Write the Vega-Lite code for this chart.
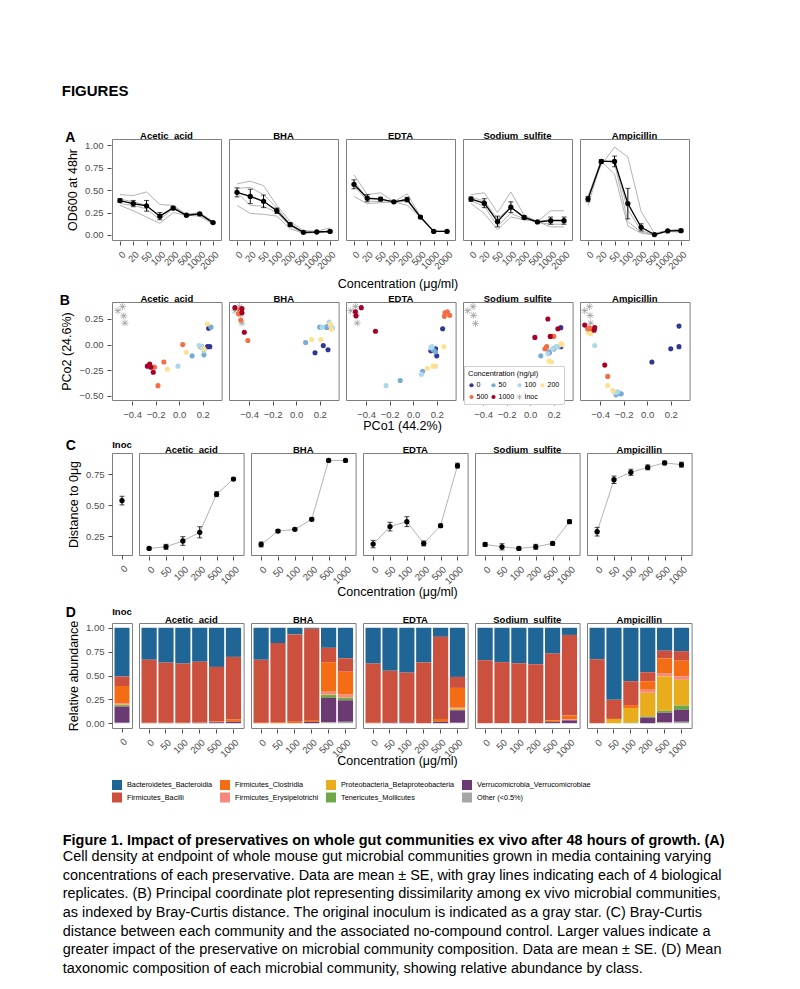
{
"$schema": "https://vega.github.io/schema/vega-lite/v6.json",
"background": "white",
"padding": {"left": 59, "top": 84, "right": 10, "bottom": 2},
"config": {
  "font": "Liberation Sans",
  "view": {"stroke": "#7f7f7f", "strokeWidth": 1},
  "axis": {"grid": false, "domain": false, "tickColor": "#4d4d4d", "tickSize": 4, "labelFontSize": 9.5, "labelColor": "#4d4d4d", "labelPadding": 4, "titleFontSize": 12.5, "titleFontWeight": "normal", "titleColor": "black", "titlePadding": 5, "labelFlush": false, "labelOverlap": false},
  "header": {"labelFontSize": 9.5, "labelFontWeight": "bold", "labelColor": "black", "labelPadding": -2.5},
  "title": {"fontSize": 9.5, "fontWeight": "bold", "color": "black", "offset": 0, "baseline": "alphabetic"}
},
"title": {
  "text": "Figure 1. Impact of preservatives on whole gut communities ex vivo after 48 hours of growth. (A)",
  "subtitle": [
    "Cell density at endpoint of whole mouse gut microbial communities grown in media containing varying",
    "concentrations of each preservative. Data are mean ± SE, with gray lines indicating each of 4 biological",
    "replicates. (B) Principal coordinate plot representing dissimilarity among ex vivo microbial communities,",
    "as indexed by Bray-Curtis distance. The original inoculum is indicated as a gray star. (C) Bray-Curtis",
    "distance between each community and the associated no-compound control. Larger values indicate a",
    "greater impact of the preservative on microbial community composition. Data are mean ± SE. (D) Mean",
    "taxonomic composition of each microbial community, showing relative abundance by class."
  ],
  "orient": "bottom", "anchor": "start", "frame": "bounds", "dx": 3, "offset": 31,
  "font": "Liberation Sans", "fontSize": 14.45, "fontWeight": "bold", "color": "black", "lineHeight": 18.7, "baseline": "top",
  "subtitleFont": "Liberation Sans", "subtitleFontSize": 14.45, "subtitleFontWeight": "normal", "subtitleColor": "black", "subtitleLineHeight": 18.7, "subtitlePadding": 1.5
},
"resolve": {"scale": {"color": "independent", "shape": "independent"}, "legend": {"color": "independent", "shape": "independent"}},
"spacing": 7,
"datasets": {
  "odA": [
    {"kind":"rep","cmpd":"Acetic_acid","rep":1,"0":0.45,"20":0.44,"50":0.48,"100":0.34,"200":0.33,"500":0.23,"1000":0.25,"2000":0.15},
    {"kind":"rep","cmpd":"Acetic_acid","rep":2,"0":0.40,"20":0.37,"50":0.33,"100":0.20,"200":0.32,"500":0.22,"1000":0.24,"2000":0.14},
    {"kind":"rep","cmpd":"Acetic_acid","rep":3,"0":0.35,"20":0.33,"50":0.29,"100":0.17,"200":0.30,"500":0.21,"1000":0.23,"2000":0.13},
    {"kind":"rep","cmpd":"Acetic_acid","rep":4,"0":0.33,"20":0.27,"50":0.20,"100":0.13,"200":0.25,"500":0.22,"1000":0.21,"2000":0.12},
    {"kind":"rep","cmpd":"BHA","rep":1,"0":0.57,"20":0.60,"50":0.55,"100":0.33,"200":0.15,"500":0.05,"1000":0.04,"2000":0.08},
    {"kind":"rep","cmpd":"BHA","rep":2,"0":0.52,"20":0.53,"50":0.45,"100":0.30,"200":0.12,"500":0.03,"1000":0.03,"2000":0.04},
    {"kind":"rep","cmpd":"BHA","rep":3,"0":0.47,"20":0.33,"50":0.32,"100":0.25,"200":0.10,"500":0.02,"1000":0.03,"2000":0.03},
    {"kind":"rep","cmpd":"BHA","rep":4,"0":0.33,"20":0.24,"50":0.23,"100":0.21,"200":0.07,"500":0.02,"1000":0.03,"2000":0.03},
    {"kind":"rep","cmpd":"EDTA","rep":1,"0":0.67,"20":0.45,"50":0.47,"100":0.37,"200":0.46,"500":0.21,"1000":0.04,"2000":0.04},
    {"kind":"rep","cmpd":"EDTA","rep":2,"0":0.60,"20":0.40,"50":0.40,"100":0.37,"200":0.40,"500":0.20,"1000":0.04,"2000":0.04},
    {"kind":"rep","cmpd":"EDTA","rep":3,"0":0.55,"20":0.38,"50":0.37,"100":0.36,"200":0.38,"500":0.19,"1000":0.04,"2000":0.04},
    {"kind":"rep","cmpd":"EDTA","rep":4,"0":0.43,"20":0.35,"50":0.36,"100":0.37,"200":0.33,"500":0.20,"1000":0.04,"2000":0.04},
    {"kind":"rep","cmpd":"Sodium_sulfite","rep":1,"0":0.45,"20":0.47,"50":0.25,"100":0.48,"200":0.22,"500":0.15,"1000":0.27,"2000":0.27},
    {"kind":"rep","cmpd":"Sodium_sulfite","rep":2,"0":0.42,"20":0.38,"50":0.18,"100":0.31,"200":0.21,"500":0.15,"1000":0.17,"2000":0.17},
    {"kind":"rep","cmpd":"Sodium_sulfite","rep":3,"0":0.38,"20":0.32,"50":0.10,"100":0.24,"200":0.18,"500":0.14,"1000":0.12,"2000":0.12},
    {"kind":"rep","cmpd":"Sodium_sulfite","rep":4,"0":0.35,"20":0.24,"50":0.06,"100":0.20,"200":0.17,"500":0.15,"1000":0.09,"2000":0.09},
    {"kind":"rep","cmpd":"Ampicillin","rep":1,"0":0.44,"20":0.78,"50":0.98,"100":0.87,"200":0.26,"500":0.02,"1000":0.05,"2000":0.07},
    {"kind":"rep","cmpd":"Ampicillin","rep":2,"0":0.40,"20":0.82,"50":0.82,"100":0.28,"200":0.05,"500":0.00,"1000":0.04,"2000":0.05},
    {"kind":"rep","cmpd":"Ampicillin","rep":3,"0":0.42,"20":0.84,"50":0.80,"100":0.15,"200":0.03,"500":0.00,"1000":0.05,"2000":0.04},
    {"kind":"rep","cmpd":"Ampicillin","rep":4,"0":0.33,"20":0.82,"50":0.68,"100":0.10,"200":0.02,"500":0.00,"1000":0.04,"2000":0.03},
    {"kind":"mean","cmpd":"Acetic_acid","conc":"0","od":0.384,"se":0.02},
    {"kind":"mean","cmpd":"Acetic_acid","conc":"20","od":0.35,"se":0.035},
    {"kind":"mean","cmpd":"Acetic_acid","conc":"50","od":0.325,"se":0.06},
    {"kind":"mean","cmpd":"Acetic_acid","conc":"100","od":0.21,"se":0.04},
    {"kind":"mean","cmpd":"Acetic_acid","conc":"200","od":0.30,"se":0.02},
    {"kind":"mean","cmpd":"Acetic_acid","conc":"500","od":0.22,"se":0.01},
    {"kind":"mean","cmpd":"Acetic_acid","conc":"1000","od":0.235,"se":0.01},
    {"kind":"mean","cmpd":"Acetic_acid","conc":"2000","od":0.138,"se":0.01},
    {"kind":"mean","cmpd":"BHA","conc":"0","od":0.475,"se":0.05},
    {"kind":"mean","cmpd":"BHA","conc":"20","od":0.43,"se":0.08},
    {"kind":"mean","cmpd":"BHA","conc":"50","od":0.375,"se":0.07},
    {"kind":"mean","cmpd":"BHA","conc":"100","od":0.27,"se":0.03},
    {"kind":"mean","cmpd":"BHA","conc":"200","od":0.115,"se":0.02},
    {"kind":"mean","cmpd":"BHA","conc":"500","od":0.03,"se":0.005},
    {"kind":"mean","cmpd":"BHA","conc":"1000","od":0.033,"se":0.005},
    {"kind":"mean","cmpd":"BHA","conc":"2000","od":0.04,"se":0.01},
    {"kind":"mean","cmpd":"EDTA","conc":"0","od":0.565,"se":0.05},
    {"kind":"mean","cmpd":"EDTA","conc":"20","od":0.41,"se":0.04},
    {"kind":"mean","cmpd":"EDTA","conc":"50","od":0.40,"se":0.02},
    {"kind":"mean","cmpd":"EDTA","conc":"100","od":0.37,"se":0.01},
    {"kind":"mean","cmpd":"EDTA","conc":"200","od":0.395,"se":0.025},
    {"kind":"mean","cmpd":"EDTA","conc":"500","od":0.20,"se":0.01},
    {"kind":"mean","cmpd":"EDTA","conc":"1000","od":0.04,"se":0.005},
    {"kind":"mean","cmpd":"EDTA","conc":"2000","od":0.04,"se":0.005},
    {"kind":"mean","cmpd":"Sodium_sulfite","conc":"0","od":0.40,"se":0.025},
    {"kind":"mean","cmpd":"Sodium_sulfite","conc":"20","od":0.355,"se":0.05},
    {"kind":"mean","cmpd":"Sodium_sulfite","conc":"50","od":0.15,"se":0.06},
    {"kind":"mean","cmpd":"Sodium_sulfite","conc":"100","od":0.31,"se":0.06},
    {"kind":"mean","cmpd":"Sodium_sulfite","conc":"200","od":0.195,"se":0.02},
    {"kind":"mean","cmpd":"Sodium_sulfite","conc":"500","od":0.145,"se":0.005},
    {"kind":"mean","cmpd":"Sodium_sulfite","conc":"1000","od":0.16,"se":0.04},
    {"kind":"mean","cmpd":"Sodium_sulfite","conc":"2000","od":0.16,"se":0.04},
    {"kind":"mean","cmpd":"Ampicillin","conc":"0","od":0.40,"se":0.03},
    {"kind":"mean","cmpd":"Ampicillin","conc":"20","od":0.82,"se":0.02},
    {"kind":"mean","cmpd":"Ampicillin","conc":"50","od":0.82,"se":0.06},
    {"kind":"mean","cmpd":"Ampicillin","conc":"100","od":0.35,"se":0.17},
    {"kind":"mean","cmpd":"Ampicillin","conc":"200","od":0.085,"se":0.04},
    {"kind":"mean","cmpd":"Ampicillin","conc":"500","od":0.005,"se":0.005},
    {"kind":"mean","cmpd":"Ampicillin","conc":"1000","od":0.045,"se":0.005},
    {"kind":"mean","cmpd":"Ampicillin","conc":"2000","od":0.048,"se":0.01}
  ],
  "pcoa": [
    {"cmpd":"Acetic_acid","conc":"Inoc","pc1":-0.52,"pc2":0.33},{"cmpd":"Acetic_acid","conc":"Inoc","pc1":-0.48,"pc2":0.37},{"cmpd":"Acetic_acid","conc":"Inoc","pc1":-0.47,"pc2":0.28},{"cmpd":"Acetic_acid","conc":"Inoc","pc1":-0.46,"pc2":0.21},
    {"cmpd":"BHA","conc":"Inoc","pc1":-0.52,"pc2":0.33},{"cmpd":"BHA","conc":"Inoc","pc1":-0.48,"pc2":0.37},{"cmpd":"BHA","conc":"Inoc","pc1":-0.47,"pc2":0.29},{"cmpd":"BHA","conc":"Inoc","pc1":-0.46,"pc2":0.21},
    {"cmpd":"EDTA","conc":"Inoc","pc1":-0.53,"pc2":0.33},{"cmpd":"EDTA","conc":"Inoc","pc1":-0.49,"pc2":0.37},{"cmpd":"EDTA","conc":"Inoc","pc1":-0.485,"pc2":0.285},{"cmpd":"EDTA","conc":"Inoc","pc1":-0.475,"pc2":0.21},
    {"cmpd":"Sodium_sulfite","conc":"Inoc","pc1":-0.53,"pc2":0.33},{"cmpd":"Sodium_sulfite","conc":"Inoc","pc1":-0.485,"pc2":0.37},{"cmpd":"Sodium_sulfite","conc":"Inoc","pc1":-0.48,"pc2":0.285},{"cmpd":"Sodium_sulfite","conc":"Inoc","pc1":-0.465,"pc2":0.205},
    {"cmpd":"Ampicillin","conc":"Inoc","pc1":-0.53,"pc2":0.33},{"cmpd":"Ampicillin","conc":"Inoc","pc1":-0.49,"pc2":0.37},{"cmpd":"Ampicillin","conc":"Inoc","pc1":-0.485,"pc2":0.285},{"cmpd":"Ampicillin","conc":"Inoc","pc1":-0.48,"pc2":0.21},
    {"cmpd":"Acetic_acid","conc":"0","pc1":0.19,"pc2":-0.02},{"cmpd":"Acetic_acid","conc":"0","pc1":0.24,"pc2":-0.02},{"cmpd":"Acetic_acid","conc":"0","pc1":0.26,"pc2":-0.02},{"cmpd":"Acetic_acid","conc":"0","pc1":0.25,"pc2":0.16},
    {"cmpd":"Acetic_acid","conc":"50","pc1":0.11,"pc2":-0.11},{"cmpd":"Acetic_acid","conc":"50","pc1":0.21,"pc2":-0.10},{"cmpd":"Acetic_acid","conc":"50","pc1":0.18,"pc2":-0.02},{"cmpd":"Acetic_acid","conc":"50","pc1":0.27,"pc2":0.17},
    {"cmpd":"Acetic_acid","conc":"100","pc1":-0.01,"pc2":-0.21},{"cmpd":"Acetic_acid","conc":"100","pc1":0.17,"pc2":-0.01},{"cmpd":"Acetic_acid","conc":"100","pc1":0.21,"pc2":-0.06},{"cmpd":"Acetic_acid","conc":"100","pc1":0.19,"pc2":-0.02},
    {"cmpd":"Acetic_acid","conc":"200","pc1":-0.10,"pc2":-0.24},{"cmpd":"Acetic_acid","conc":"200","pc1":0.06,"pc2":-0.075},{"cmpd":"Acetic_acid","conc":"200","pc1":0.24,"pc2":0.20},{"cmpd":"Acetic_acid","conc":"200","pc1":0.21,"pc2":-0.04},
    {"cmpd":"Acetic_acid","conc":"500","pc1":-0.18,"pc2":-0.40},{"cmpd":"Acetic_acid","conc":"500","pc1":-0.13,"pc2":-0.17},{"cmpd":"Acetic_acid","conc":"500","pc1":0.03,"pc2":0.0},{"cmpd":"Acetic_acid","conc":"500","pc1":-0.21,"pc2":-0.22},
    {"cmpd":"Acetic_acid","conc":"1000","pc1":-0.27,"pc2":-0.21},{"cmpd":"Acetic_acid","conc":"1000","pc1":-0.25,"pc2":-0.19},{"cmpd":"Acetic_acid","conc":"1000","pc1":-0.24,"pc2":-0.22},{"cmpd":"Acetic_acid","conc":"1000","pc1":-0.22,"pc2":-0.27},
    {"cmpd":"BHA","conc":"0","pc1":0.16,"pc2":-0.08},{"cmpd":"BHA","conc":"0","pc1":0.23,"pc2":-0.01},{"cmpd":"BHA","conc":"0","pc1":0.27,"pc2":-0.05},{"cmpd":"BHA","conc":"0","pc1":0.26,"pc2":0.17},
    {"cmpd":"BHA","conc":"50","pc1":0.08,"pc2":0.02},{"cmpd":"BHA","conc":"50","pc1":0.20,"pc2":0.17},{"cmpd":"BHA","conc":"50","pc1":0.26,"pc2":0.17},{"cmpd":"BHA","conc":"50","pc1":0.29,"pc2":0.18},
    {"cmpd":"BHA","conc":"100","pc1":0.28,"pc2":0.22},{"cmpd":"BHA","conc":"100","pc1":0.29,"pc2":0.18},{"cmpd":"BHA","conc":"100","pc1":0.31,"pc2":0.16},{"cmpd":"BHA","conc":"100","pc1":0.22,"pc2":0.17},
    {"cmpd":"BHA","conc":"200","pc1":0.13,"pc2":0.05},{"cmpd":"BHA","conc":"200","pc1":0.21,"pc2":0.05},{"cmpd":"BHA","conc":"200","pc1":0.29,"pc2":0.20},{"cmpd":"BHA","conc":"200","pc1":0.30,"pc2":0.15},
    {"cmpd":"BHA","conc":"500","pc1":-0.48,"pc2":0.34},{"cmpd":"BHA","conc":"500","pc1":-0.47,"pc2":0.24},{"cmpd":"BHA","conc":"500","pc1":-0.41,"pc2":0.04},{"cmpd":"BHA","conc":"500","pc1":-0.49,"pc2":0.30},
    {"cmpd":"BHA","conc":"1000","pc1":-0.52,"pc2":0.36},{"cmpd":"BHA","conc":"1000","pc1":-0.46,"pc2":0.35},{"cmpd":"BHA","conc":"1000","pc1":-0.46,"pc2":0.31},{"cmpd":"BHA","conc":"1000","pc1":-0.44,"pc2":0.12},
    {"cmpd":"EDTA","conc":"0","pc1":0.15,"pc2":-0.06},{"cmpd":"EDTA","conc":"0","pc1":0.25,"pc2":0.155},{"cmpd":"EDTA","conc":"0","pc1":0.20,"pc2":-0.11},{"cmpd":"EDTA","conc":"0","pc1":0.19,"pc2":-0.04},
    {"cmpd":"EDTA","conc":"50","pc1":-0.11,"pc2":-0.35},{"cmpd":"EDTA","conc":"50","pc1":0.08,"pc2":-0.26},{"cmpd":"EDTA","conc":"50","pc1":0.19,"pc2":-0.07},{"cmpd":"EDTA","conc":"50","pc1":0.17,"pc2":-0.05},
    {"cmpd":"EDTA","conc":"100","pc1":-0.23,"pc2":-0.40},{"cmpd":"EDTA","conc":"100","pc1":0.07,"pc2":-0.29},{"cmpd":"EDTA","conc":"100","pc1":0.15,"pc2":-0.03},{"cmpd":"EDTA","conc":"100","pc1":0.16,"pc2":-0.02},
    {"cmpd":"EDTA","conc":"200","pc1":0.12,"pc2":-0.23},{"cmpd":"EDTA","conc":"200","pc1":0.19,"pc2":-0.21},{"cmpd":"EDTA","conc":"200","pc1":0.26,"pc2":-0.02},{"cmpd":"EDTA","conc":"200","pc1":0.17,"pc2":-0.21},
    {"cmpd":"EDTA","conc":"500","pc1":0.27,"pc2":0.31},{"cmpd":"EDTA","conc":"500","pc1":0.29,"pc2":0.32},{"cmpd":"EDTA","conc":"500","pc1":0.31,"pc2":0.285},{"cmpd":"EDTA","conc":"500","pc1":0.265,"pc2":0.275},
    {"cmpd":"EDTA","conc":"1000","pc1":-0.49,"pc2":0.32},{"cmpd":"EDTA","conc":"1000","pc1":-0.485,"pc2":0.28},{"cmpd":"EDTA","conc":"1000","pc1":-0.44,"pc2":0.36},{"cmpd":"EDTA","conc":"1000","pc1":-0.32,"pc2":0.13},
    {"cmpd":"Sodium_sulfite","conc":"0","pc1":0.26,"pc2":0.165},{"cmpd":"Sodium_sulfite","conc":"0","pc1":0.26,"pc2":-0.02},{"cmpd":"Sodium_sulfite","conc":"0","pc1":0.16,"pc2":-0.08},{"cmpd":"Sodium_sulfite","conc":"0","pc1":0.20,"pc2":-0.04},
    {"cmpd":"Sodium_sulfite","conc":"50","pc1":0.09,"pc2":-0.11},{"cmpd":"Sodium_sulfite","conc":"50","pc1":0.20,"pc2":-0.04},{"cmpd":"Sodium_sulfite","conc":"50","pc1":0.24,"pc2":-0.02},{"cmpd":"Sodium_sulfite","conc":"50","pc1":0.16,"pc2":-0.07},
    {"cmpd":"Sodium_sulfite","conc":"100","pc1":0.22,"pc2":-0.02},{"cmpd":"Sodium_sulfite","conc":"100","pc1":0.23,"pc2":-0.02},{"cmpd":"Sodium_sulfite","conc":"100","pc1":0.19,"pc2":-0.04},{"cmpd":"Sodium_sulfite","conc":"100","pc1":0.15,"pc2":-0.09},
    {"cmpd":"Sodium_sulfite","conc":"200","pc1":0.26,"pc2":0.01},{"cmpd":"Sodium_sulfite","conc":"200","pc1":0.16,"pc2":-0.16},{"cmpd":"Sodium_sulfite","conc":"200","pc1":0.18,"pc2":-0.17},{"cmpd":"Sodium_sulfite","conc":"200","pc1":0.27,"pc2":0.0},
    {"cmpd":"Sodium_sulfite","conc":"500","pc1":0.19,"pc2":0.08},{"cmpd":"Sodium_sulfite","conc":"500","pc1":0.20,"pc2":0.08},{"cmpd":"Sodium_sulfite","conc":"500","pc1":0.125,"pc2":-0.04},{"cmpd":"Sodium_sulfite","conc":"500","pc1":0.14,"pc2":-0.02},
    {"cmpd":"Sodium_sulfite","conc":"1000","pc1":0.15,"pc2":0.25},{"cmpd":"Sodium_sulfite","conc":"1000","pc1":0.04,"pc2":0.07},{"cmpd":"Sodium_sulfite","conc":"1000","pc1":0.17,"pc2":0.08},{"cmpd":"Sodium_sulfite","conc":"1000","pc1":0.235,"pc2":0.155},
    {"cmpd":"Ampicillin","conc":"0","pc1":0.04,"pc2":-0.17},{"cmpd":"Ampicillin","conc":"0","pc1":0.20,"pc2":-0.04},{"cmpd":"Ampicillin","conc":"0","pc1":0.27,"pc2":-0.02},{"cmpd":"Ampicillin","conc":"0","pc1":0.27,"pc2":0.18},
    {"cmpd":"Ampicillin","conc":"50","pc1":-0.265,"pc2":-0.49},{"cmpd":"Ampicillin","conc":"50","pc1":-0.22,"pc2":-0.48},{"cmpd":"Ampicillin","conc":"50","pc1":-0.26,"pc2":-0.47},{"cmpd":"Ampicillin","conc":"50","pc1":-0.24,"pc2":-0.475},
    {"cmpd":"Ampicillin","conc":"100","pc1":-0.445,"pc2":-0.01},{"cmpd":"Ampicillin","conc":"100","pc1":-0.29,"pc2":-0.45},{"cmpd":"Ampicillin","conc":"100","pc1":-0.265,"pc2":-0.47},{"cmpd":"Ampicillin","conc":"100","pc1":-0.25,"pc2":-0.46},
    {"cmpd":"Ampicillin","conc":"200","pc1":-0.48,"pc2":0.105},{"cmpd":"Ampicillin","conc":"200","pc1":-0.335,"pc2":-0.40},{"cmpd":"Ampicillin","conc":"200","pc1":-0.50,"pc2":0.12},{"cmpd":"Ampicillin","conc":"200","pc1":-0.29,"pc2":-0.45},
    {"cmpd":"Ampicillin","conc":"500","pc1":-0.505,"pc2":0.155},{"cmpd":"Ampicillin","conc":"500","pc1":-0.48,"pc2":0.155},{"cmpd":"Ampicillin","conc":"500","pc1":-0.335,"pc2":-0.31},{"cmpd":"Ampicillin","conc":"500","pc1":-0.49,"pc2":0.16},
    {"cmpd":"Ampicillin","conc":"1000","pc1":-0.53,"pc2":0.19},{"cmpd":"Ampicillin","conc":"1000","pc1":-0.445,"pc2":0.165},{"cmpd":"Ampicillin","conc":"1000","pc1":-0.45,"pc2":0.14},{"cmpd":"Ampicillin","conc":"1000","pc1":-0.36,"pc2":-0.20}
  ],
  "dist": [
    {"cmpd":"Inoc","conc":"0","dist":0.536,"se":0.035},
    {"cmpd":"Acetic_acid","conc":"0","dist":0.15,"se":0.01},
    {"cmpd":"Acetic_acid","conc":"50","dist":0.163,"se":0.02},
    {"cmpd":"Acetic_acid","conc":"100","dist":0.21,"se":0.035},
    {"cmpd":"Acetic_acid","conc":"200","dist":0.28,"se":0.045},
    {"cmpd":"Acetic_acid","conc":"500","dist":0.588,"se":0.02},
    {"cmpd":"Acetic_acid","conc":"1000","dist":0.71,"se":0.01},
    {"cmpd":"BHA","conc":"0","dist":0.182,"se":0.02},
    {"cmpd":"BHA","conc":"50","dist":0.29,"se":0.012},
    {"cmpd":"BHA","conc":"100","dist":0.304,"se":0.01},
    {"cmpd":"BHA","conc":"200","dist":0.385,"se":0.012},
    {"cmpd":"BHA","conc":"500","dist":0.86,"se":0.01},
    {"cmpd":"BHA","conc":"1000","dist":0.86,"se":0.01},
    {"cmpd":"EDTA","conc":"0","dist":0.185,"se":0.03},
    {"cmpd":"EDTA","conc":"50","dist":0.326,"se":0.035},
    {"cmpd":"EDTA","conc":"100","dist":0.366,"se":0.04},
    {"cmpd":"EDTA","conc":"200","dist":0.19,"se":0.02},
    {"cmpd":"EDTA","conc":"500","dist":0.334,"se":0.012},
    {"cmpd":"EDTA","conc":"1000","dist":0.818,"se":0.02},
    {"cmpd":"Sodium_sulfite","conc":"0","dist":0.182,"se":0.015},
    {"cmpd":"Sodium_sulfite","conc":"50","dist":0.163,"se":0.025},
    {"cmpd":"Sodium_sulfite","conc":"100","dist":0.15,"se":0.012},
    {"cmpd":"Sodium_sulfite","conc":"200","dist":0.163,"se":0.02},
    {"cmpd":"Sodium_sulfite","conc":"500","dist":0.19,"se":0.012},
    {"cmpd":"Sodium_sulfite","conc":"1000","dist":0.366,"se":0.015},
    {"cmpd":"Ampicillin","conc":"0","dist":0.285,"se":0.035},
    {"cmpd":"Ampicillin","conc":"50","dist":0.704,"se":0.03},
    {"cmpd":"Ampicillin","conc":"100","dist":0.764,"se":0.025},
    {"cmpd":"Ampicillin","conc":"200","dist":0.804,"se":0.02},
    {"cmpd":"Ampicillin","conc":"500","dist":0.84,"se":0.015},
    {"cmpd":"Ampicillin","conc":"1000","dist":0.826,"se":0.02}
  ],
  "taxa": [
    {"cmpd":"Inoc","conc":"0","Bacteroidetes_Bacteroidia":0.51,"Firmicutes_Bacilli":0.10,"Firmicutes_Clostridia":0.18,"Firmicutes_Erysipelotrichi":0.015,"Proteobacteria_Betaproteobacteria":0.005,"Tenericutes_Mollicutes":0.015,"Verrucomicrobia_Verrucomicrobiae":0.17,"Other":0.005},
    {"cmpd":"Acetic_acid","conc":"0","Bacteroidetes_Bacteroidia":0.335,"Firmicutes_Bacilli":0.66,"Firmicutes_Clostridia":0.003,"Firmicutes_Erysipelotrichi":0,"Proteobacteria_Betaproteobacteria":0,"Tenericutes_Mollicutes":0,"Verrucomicrobia_Verrucomicrobiae":0.002,"Other":0},
    {"cmpd":"Acetic_acid","conc":"50","Bacteroidetes_Bacteroidia":0.365,"Firmicutes_Bacilli":0.63,"Firmicutes_Clostridia":0.003,"Firmicutes_Erysipelotrichi":0,"Proteobacteria_Betaproteobacteria":0,"Tenericutes_Mollicutes":0,"Verrucomicrobia_Verrucomicrobiae":0.002,"Other":0},
    {"cmpd":"Acetic_acid","conc":"100","Bacteroidetes_Bacteroidia":0.375,"Firmicutes_Bacilli":0.62,"Firmicutes_Clostridia":0.003,"Firmicutes_Erysipelotrichi":0,"Proteobacteria_Betaproteobacteria":0,"Tenericutes_Mollicutes":0,"Verrucomicrobia_Verrucomicrobiae":0.002,"Other":0},
    {"cmpd":"Acetic_acid","conc":"200","Bacteroidetes_Bacteroidia":0.355,"Firmicutes_Bacilli":0.635,"Firmicutes_Clostridia":0.005,"Firmicutes_Erysipelotrichi":0,"Proteobacteria_Betaproteobacteria":0,"Tenericutes_Mollicutes":0,"Verrucomicrobia_Verrucomicrobiae":0.005,"Other":0},
    {"cmpd":"Acetic_acid","conc":"500","Bacteroidetes_Bacteroidia":0.41,"Firmicutes_Bacilli":0.57,"Firmicutes_Clostridia":0.01,"Firmicutes_Erysipelotrichi":0,"Proteobacteria_Betaproteobacteria":0,"Tenericutes_Mollicutes":0,"Verrucomicrobia_Verrucomicrobiae":0.01,"Other":0},
    {"cmpd":"Acetic_acid","conc":"1000","Bacteroidetes_Bacteroidia":0.305,"Firmicutes_Bacilli":0.655,"Firmicutes_Clostridia":0.025,"Firmicutes_Erysipelotrichi":0,"Proteobacteria_Betaproteobacteria":0,"Tenericutes_Mollicutes":0,"Verrucomicrobia_Verrucomicrobiae":0.015,"Other":0},
    {"cmpd":"BHA","conc":"0","Bacteroidetes_Bacteroidia":0.335,"Firmicutes_Bacilli":0.66,"Firmicutes_Clostridia":0.005,"Firmicutes_Erysipelotrichi":0,"Proteobacteria_Betaproteobacteria":0,"Tenericutes_Mollicutes":0,"Verrucomicrobia_Verrucomicrobiae":0,"Other":0},
    {"cmpd":"BHA","conc":"50","Bacteroidetes_Bacteroidia":0.16,"Firmicutes_Bacilli":0.83,"Firmicutes_Clostridia":0.01,"Firmicutes_Erysipelotrichi":0,"Proteobacteria_Betaproteobacteria":0,"Tenericutes_Mollicutes":0,"Verrucomicrobia_Verrucomicrobiae":0,"Other":0},
    {"cmpd":"BHA","conc":"100","Bacteroidetes_Bacteroidia":0.07,"Firmicutes_Bacilli":0.915,"Firmicutes_Clostridia":0.015,"Firmicutes_Erysipelotrichi":0,"Proteobacteria_Betaproteobacteria":0,"Tenericutes_Mollicutes":0,"Verrucomicrobia_Verrucomicrobiae":0,"Other":0},
    {"cmpd":"BHA","conc":"200","Bacteroidetes_Bacteroidia":0.01,"Firmicutes_Bacilli":0.955,"Firmicutes_Clostridia":0.02,"Firmicutes_Erysipelotrichi":0,"Proteobacteria_Betaproteobacteria":0,"Tenericutes_Mollicutes":0,"Verrucomicrobia_Verrucomicrobiae":0.015,"Other":0},
    {"cmpd":"BHA","conc":"500","Bacteroidetes_Bacteroidia":0.21,"Firmicutes_Bacilli":0.15,"Firmicutes_Clostridia":0.31,"Firmicutes_Erysipelotrichi":0.03,"Proteobacteria_Betaproteobacteria":0.005,"Tenericutes_Mollicutes":0.03,"Verrucomicrobia_Verrucomicrobiae":0.255,"Other":0.01},
    {"cmpd":"BHA","conc":"1000","Bacteroidetes_Bacteroidia":0.32,"Firmicutes_Bacilli":0.14,"Firmicutes_Clostridia":0.24,"Firmicutes_Erysipelotrichi":0.03,"Proteobacteria_Betaproteobacteria":0.005,"Tenericutes_Mollicutes":0.025,"Verrucomicrobia_Verrucomicrobiae":0.225,"Other":0.015},
    {"cmpd":"EDTA","conc":"0","Bacteroidetes_Bacteroidia":0.375,"Firmicutes_Bacilli":0.62,"Firmicutes_Clostridia":0.005,"Firmicutes_Erysipelotrichi":0,"Proteobacteria_Betaproteobacteria":0,"Tenericutes_Mollicutes":0,"Verrucomicrobia_Verrucomicrobiae":0,"Other":0},
    {"cmpd":"EDTA","conc":"50","Bacteroidetes_Bacteroidia":0.45,"Firmicutes_Bacilli":0.545,"Firmicutes_Clostridia":0,"Firmicutes_Erysipelotrichi":0,"Proteobacteria_Betaproteobacteria":0,"Tenericutes_Mollicutes":0,"Verrucomicrobia_Verrucomicrobiae":0.005,"Other":0},
    {"cmpd":"EDTA","conc":"100","Bacteroidetes_Bacteroidia":0.47,"Firmicutes_Bacilli":0.525,"Firmicutes_Clostridia":0,"Firmicutes_Erysipelotrichi":0,"Proteobacteria_Betaproteobacteria":0,"Tenericutes_Mollicutes":0,"Verrucomicrobia_Verrucomicrobiae":0.005,"Other":0},
    {"cmpd":"EDTA","conc":"200","Bacteroidetes_Bacteroidia":0.365,"Firmicutes_Bacilli":0.635,"Firmicutes_Clostridia":0,"Firmicutes_Erysipelotrichi":0,"Proteobacteria_Betaproteobacteria":0,"Tenericutes_Mollicutes":0,"Verrucomicrobia_Verrucomicrobiae":0,"Other":0},
    {"cmpd":"EDTA","conc":"500","Bacteroidetes_Bacteroidia":0.095,"Firmicutes_Bacilli":0.86,"Firmicutes_Clostridia":0.03,"Firmicutes_Erysipelotrichi":0,"Proteobacteria_Betaproteobacteria":0,"Tenericutes_Mollicutes":0,"Verrucomicrobia_Verrucomicrobiae":0.015,"Other":0},
    {"cmpd":"EDTA","conc":"1000","Bacteroidetes_Bacteroidia":0.515,"Firmicutes_Bacilli":0.115,"Firmicutes_Clostridia":0.2,"Firmicutes_Erysipelotrichi":0.015,"Proteobacteria_Betaproteobacteria":0.015,"Tenericutes_Mollicutes":0.005,"Verrucomicrobia_Verrucomicrobiae":0.13,"Other":0.005},
    {"cmpd":"Sodium_sulfite","conc":"0","Bacteroidetes_Bacteroidia":0.34,"Firmicutes_Bacilli":0.66,"Firmicutes_Clostridia":0,"Firmicutes_Erysipelotrichi":0,"Proteobacteria_Betaproteobacteria":0,"Tenericutes_Mollicutes":0,"Verrucomicrobia_Verrucomicrobiae":0,"Other":0},
    {"cmpd":"Sodium_sulfite","conc":"50","Bacteroidetes_Bacteroidia":0.36,"Firmicutes_Bacilli":0.64,"Firmicutes_Clostridia":0,"Firmicutes_Erysipelotrichi":0,"Proteobacteria_Betaproteobacteria":0,"Tenericutes_Mollicutes":0,"Verrucomicrobia_Verrucomicrobiae":0,"Other":0},
    {"cmpd":"Sodium_sulfite","conc":"100","Bacteroidetes_Bacteroidia":0.372,"Firmicutes_Bacilli":0.628,"Firmicutes_Clostridia":0,"Firmicutes_Erysipelotrichi":0,"Proteobacteria_Betaproteobacteria":0,"Tenericutes_Mollicutes":0,"Verrucomicrobia_Verrucomicrobiae":0,"Other":0},
    {"cmpd":"Sodium_sulfite","conc":"200","Bacteroidetes_Bacteroidia":0.382,"Firmicutes_Bacilli":0.618,"Firmicutes_Clostridia":0,"Firmicutes_Erysipelotrichi":0,"Proteobacteria_Betaproteobacteria":0,"Tenericutes_Mollicutes":0,"Verrucomicrobia_Verrucomicrobiae":0,"Other":0},
    {"cmpd":"Sodium_sulfite","conc":"500","Bacteroidetes_Bacteroidia":0.27,"Firmicutes_Bacilli":0.70,"Firmicutes_Clostridia":0.018,"Firmicutes_Erysipelotrichi":0,"Proteobacteria_Betaproteobacteria":0,"Tenericutes_Mollicutes":0,"Verrucomicrobia_Verrucomicrobiae":0.012,"Other":0},
    {"cmpd":"Sodium_sulfite","conc":"1000","Bacteroidetes_Bacteroidia":0.075,"Firmicutes_Bacilli":0.845,"Firmicutes_Clostridia":0.04,"Firmicutes_Erysipelotrichi":0.01,"Proteobacteria_Betaproteobacteria":0,"Tenericutes_Mollicutes":0,"Verrucomicrobia_Verrucomicrobiae":0.03,"Other":0},
    {"cmpd":"Ampicillin","conc":"0","Bacteroidetes_Bacteroidia":0.33,"Firmicutes_Bacilli":0.67,"Firmicutes_Clostridia":0,"Firmicutes_Erysipelotrichi":0,"Proteobacteria_Betaproteobacteria":0,"Tenericutes_Mollicutes":0,"Verrucomicrobia_Verrucomicrobiae":0,"Other":0},
    {"cmpd":"Ampicillin","conc":"50","Bacteroidetes_Bacteroidia":0.755,"Firmicutes_Bacilli":0.20,"Firmicutes_Clostridia":0,"Firmicutes_Erysipelotrichi":0,"Proteobacteria_Betaproteobacteria":0.045,"Tenericutes_Mollicutes":0,"Verrucomicrobia_Verrucomicrobiae":0,"Other":0},
    {"cmpd":"Ampicillin","conc":"100","Bacteroidetes_Bacteroidia":0.56,"Firmicutes_Bacilli":0.25,"Firmicutes_Clostridia":0.03,"Firmicutes_Erysipelotrichi":0,"Proteobacteria_Betaproteobacteria":0.155,"Tenericutes_Mollicutes":0.005,"Verrucomicrobia_Verrucomicrobiae":0,"Other":0},
    {"cmpd":"Ampicillin","conc":"200","Bacteroidetes_Bacteroidia":0.465,"Firmicutes_Bacilli":0.095,"Firmicutes_Clostridia":0.09,"Firmicutes_Erysipelotrichi":0.03,"Proteobacteria_Betaproteobacteria":0.25,"Tenericutes_Mollicutes":0.01,"Verrucomicrobia_Verrucomicrobiae":0.06,"Other":0},
    {"cmpd":"Ampicillin","conc":"500","Bacteroidetes_Bacteroidia":0.24,"Firmicutes_Bacilli":0.08,"Firmicutes_Clostridia":0.16,"Firmicutes_Erysipelotrichi":0.03,"Proteobacteria_Betaproteobacteria":0.36,"Tenericutes_Mollicutes":0.02,"Verrucomicrobia_Verrucomicrobiae":0.10,"Other":0.01},
    {"cmpd":"Ampicillin","conc":"1000","Bacteroidetes_Bacteroidia":0.245,"Firmicutes_Bacilli":0.10,"Firmicutes_Clostridia":0.165,"Firmicutes_Erysipelotrichi":0.035,"Proteobacteria_Betaproteobacteria":0.27,"Tenericutes_Mollicutes":0.045,"Verrucomicrobia_Verrucomicrobiae":0.125,"Other":0.015}
  ]
},
"vconcat": [
  {
    "title": {"text": "FIGURES", "anchor": "start", "frame": "bounds", "fontSize": 15, "fontWeight": "bold", "color": "black", "offset": 20, "dx": 2, "baseline": "alphabetic"},
    "spacing": 3,
    "vconcat": [
      {
        "title": {"text": "A", "orient": "left", "anchor": "end", "frame": "bounds", "angle": 0, "align": "right", "baseline": "top", "dx": 19, "fontSize": 14, "fontWeight": "bold", "color": "black", "offset": 0},
        "vconcat": [{
          "data": {"name": "odA"},
          "title": {"text": "Concentration (μg/ml)", "orient": "bottom", "anchor": "middle", "frame": "bounds", "dx": 20, "fontSize": 12.5, "fontWeight": "normal", "offset": 7},
          "facet": {"column": {"field": "cmpd", "type": "nominal", "title": null, "sort": ["Acetic_acid","BHA","EDTA","Sodium_sulfite","Ampicillin"]}},
          "spacing": 6,
          "spec": {
            "width": 109, "height": 101,
            "encoding": {
              "x": {"field": "conc", "type": "ordinal", "scale": {"type": "point", "padding": 0.6, "domain": ["0","20","50","100","200","500","1000","2000"]}, "axis": {"title": null, "labelAngle": -45}},
              "y": {"field": "od", "type": "quantitative", "scale": {"domain": [-0.056, 1.07], "nice": false, "zero": false}, "axis": {"title": "OD600 at 48hr", "values": [0,0.25,0.5,0.75,1], "format": ".2f"}}
            },
            "layer": [
              {"transform": [{"filter": "datum.kind == 'rep'"}, {"fold": ["0","20","50","100","200","500","1000","2000"], "as": ["conc","od"]}],
               "mark": {"type": "line", "color": "#b3b3b3", "strokeWidth": 1},
               "encoding": {"detail": {"field": "rep", "type": "nominal"}, "order": {"value": null}}},
              {"transform": [{"filter": "datum.kind == 'mean'"}],
               "mark": {"type": "line", "color": "black", "strokeWidth": 1.3},
               "encoding": {"order": {"value": null}}},
              {"transform": [{"filter": "datum.kind == 'mean'"}],
               "mark": {"type": "errorbar", "color": "black", "thickness": 1, "ticks": {"size": 5}},
               "encoding": {"yError": {"field": "se"}}},
              {"transform": [{"filter": "datum.kind == 'mean'"}],
               "mark": {"type": "point", "filled": true, "color": "black", "size": 28, "opacity": 1}}
            ]
          }
        }]
      },
      {
        "title": {"text": "B", "orient": "left", "anchor": "end", "frame": "bounds", "angle": 0, "align": "right", "baseline": "top", "dx": 19, "fontSize": 14, "fontWeight": "bold", "color": "black", "offset": 0},
        "resolve": {"legend": {"color": "independent", "shape": "independent"}},
        "vconcat": [{
          "data": {"name": "pcoa"},
          "title": {"text": "PCo1 (44.2%)", "orient": "bottom", "anchor": "middle", "frame": "bounds", "dx": 27, "fontSize": 12.5, "fontWeight": "normal", "offset": 1},
          "facet": {"column": {"field": "cmpd", "type": "nominal", "title": null, "sort": ["Acetic_acid","BHA","EDTA","Sodium_sulfite","Ampicillin"]}},
          "spacing": 5,
          "spec": {
            "width": 109.6, "height": 98,
            "mark": {"type": "point", "filled": true, "size": 26, "opacity": 1},
            "encoding": {
              "x": {"field": "pc1", "type": "quantitative", "scale": {"domain": [-0.57, 0.36], "nice": false, "zero": false}, "axis": {"title": null, "values": [-0.4,-0.2,0,0.2], "format": ".1f"}},
              "y": {"field": "pc2", "type": "quantitative", "scale": {"domain": [-0.54, 0.415], "nice": false, "zero": false}, "axis": {"title": "PCo2 (24.6%)", "values": [-0.5,-0.25,0,0.25], "format": ".2f"}},
              "color": {"field": "conc", "type": "nominal",
                "scale": {"domain": ["0","50","100","200","500","1000","Inoc"], "range": ["#313695","#74add1","#abd9e9","#fee090","#f46d43","#a50026","#a6a6a6"]},
                "legend": {"title": "Concentration (ng/μl)", "orient": "none", "legendX": 352, "legendY": 64, "direction": "horizontal", "columns": 4, "titleFontSize": 7.5, "titleFontWeight": "normal", "titleColor": "black", "labelFontSize": 7, "labelColor": "black", "symbolSize": 18, "padding": 4, "strokeColor": "#d0d0d0", "fillColor": "white", "columnPadding": 1, "rowPadding": 4, "labelOffset": 1.5, "titlePadding": 4}},
              "shape": {"field": "conc", "type": "nominal",
                "scale": {"domain": ["0","50","100","200","500","1000","Inoc"], "range": ["circle","circle","circle","circle","circle","circle","M-0.14,-1.4L0.14,-1.4L0.14,1.4L-0.14,1.4ZM-1.4,-0.14L1.4,-0.14L1.4,0.14L-1.4,0.14ZM0.89,1.09L-1.09,-0.89L-0.89,-1.09L1.09,0.89ZM1.09,-0.89L-0.89,1.09L-1.09,0.89L0.89,-1.09Z"]},
                "legend": {"title": "Concentration (ng/μl)", "orient": "none", "legendX": 352, "legendY": 64, "direction": "horizontal", "columns": 4, "titleFontSize": 7.5, "titleFontWeight": "normal", "titleColor": "black", "labelFontSize": 7, "labelColor": "black", "symbolSize": 18, "padding": 4, "strokeColor": "#d0d0d0", "fillColor": "white", "columnPadding": 1, "rowPadding": 4, "labelOffset": 1.5, "titlePadding": 4}}
            }
          }
        }]
      }
    ]
  },
  {
    "spacing": 7,
    "resolve": {"legend": {"color": "independent"}},
    "vconcat": [
      {
        "title": {"text": "C", "orient": "left", "anchor": "end", "frame": "bounds", "angle": 0, "align": "right", "baseline": "top", "dx": 19, "fontSize": 14, "fontWeight": "bold", "color": "black", "offset": 0},
        "vconcat": [{
          "title": {"text": "Concentration (μg/ml)", "orient": "bottom", "anchor": "middle", "frame": "bounds", "dx": 18, "fontSize": 12.5, "fontWeight": "normal", "offset": 0},
          "spacing": 5,
          "hconcat": [
            {
              "data": {"name": "dist"},
              "transform": [{"filter": "datum.cmpd == 'Inoc'"}],
              "title": {"text": "Inoc"},
              "width": 20, "height": 102,
              "encoding": {
                "x": {"field": "conc", "type": "ordinal", "scale": {"type": "point", "padding": 0.6, "domain": ["0"]}, "axis": {"title": null, "labelAngle": -45}},
                "y": {"field": "dist", "type": "quantitative", "scale": {"domain": [0.097, 0.92], "nice": false, "zero": false}, "axis": {"title": "Distance to 0μg", "values": [0.25,0.5,0.75], "format": ".2f"}}
              },
              "layer": [
                {"mark": {"type": "errorbar", "color": "black", "thickness": 1, "ticks": {"size": 5}}, "encoding": {"yError": {"field": "se"}}},
                {"mark": {"type": "point", "filled": true, "color": "black", "size": 28, "opacity": 1}}
              ]
            },
            {
              "data": {"name": "dist"},
              "transform": [{"filter": "datum.cmpd != 'Inoc'"}],
              "facet": {"column": {"field": "cmpd", "type": "nominal", "title": null, "sort": ["Acetic_acid","BHA","EDTA","Sodium_sulfite","Ampicillin"]}},
              "spacing": 5,
              "spec": {
                "width": 104.6, "height": 102,
                "encoding": {
                  "x": {"field": "conc", "type": "ordinal", "scale": {"type": "point", "padding": 0.6, "domain": ["0","50","100","200","500","1000"]}, "axis": {"title": null, "labelAngle": -45}},
                  "y": {"field": "dist", "type": "quantitative", "scale": {"domain": [0.097, 0.92], "nice": false, "zero": false}, "axis": null}
                },
                "layer": [
                  {"mark": {"type": "line", "color": "#b3b3b3", "strokeWidth": 1}, "encoding": {"order": {"value": null}}},
                  {"mark": {"type": "errorbar", "color": "black", "thickness": 1, "ticks": {"size": 5}}, "encoding": {"yError": {"field": "se"}}},
                  {"mark": {"type": "point", "filled": true, "color": "black", "size": 28, "opacity": 1}}
                ]
              }
            }
          ]
        }]
      },
      {
        "title": {"text": "D", "orient": "left", "anchor": "end", "frame": "bounds", "angle": 0, "align": "right", "baseline": "top", "dx": 19, "fontSize": 14, "fontWeight": "bold", "color": "black", "offset": 0},
        "vconcat": [{
          "title": {"text": "Concentration (μg/ml)", "orient": "bottom", "anchor": "middle", "frame": "bounds", "dx": 18, "fontSize": 12.5, "fontWeight": "normal", "offset": -4},
          "spacing": 5,
          "hconcat": [
            {
              "data": {"name": "taxa"},
              "transform": [
                {"filter": "datum.cmpd == 'Inoc'"},
                {"fold": ["Bacteroidetes_Bacteroidia","Firmicutes_Bacilli","Firmicutes_Clostridia","Firmicutes_Erysipelotrichi","Proteobacteria_Betaproteobacteria","Tenericutes_Mollicutes","Verrucomicrobia_Verrucomicrobiae","Other"], "as": ["taxon","abund"]},
                {"calculate": "indexof(['Other','Verrucomicrobia_Verrucomicrobiae','Tenericutes_Mollicutes','Proteobacteria_Betaproteobacteria','Firmicutes_Erysipelotrichi','Firmicutes_Clostridia','Firmicutes_Bacilli','Bacteroidetes_Bacteroidia'], datum.taxon)", "as": "stackrank"}
              ],
              "title": {"text": "Inoc"},
              "width": 20, "height": 105,
              "mark": {"type": "bar"},
              "encoding": {
                "x": {"field": "conc", "type": "ordinal", "scale": {"type": "band", "paddingInner": 0.1, "paddingOuter": 0.15, "domain": ["0"]}, "axis": {"title": null, "labelAngle": -45}},
                "y": {"field": "abund", "type": "quantitative", "stack": "zero", "scale": {"domain": [-0.05, 1.05], "nice": false, "zero": false}, "axis": {"title": "Relative abundance", "values": [0,0.25,0.5,0.75,1], "format": ".2f"}},
                "color": {"field": "taxon", "type": "nominal",
                  "scale": {"domain": ["Bacteroidetes_Bacteroidia","Firmicutes_Clostridia","Proteobacteria_Betaproteobacteria","Verrucomicrobia_Verrucomicrobiae","Firmicutes_Bacilli","Firmicutes_Erysipelotrichi","Tenericutes_Mollicutes","Other"], "range": ["#1f6696","#f46d14","#e8ac1c","#6b3a73","#cc503e","#f8877e","#6ea84b","#a6a6a6"]},
                  "legend": {"title": null, "orient": "bottom", "direction": "horizontal", "columns": 4, "symbolType": "square", "symbolSize": 100, "symbolStrokeWidth": 0, "labelFontSize": 7.3, "labelColor": "black", "labelOffset": 5, "columnPadding": 7, "rowPadding": 2.5, "offset": 12, "labelExpr": "datum.label == 'Other' ? 'Other (<0.5%)' : datum.label"}},
                "order": {"field": "stackrank", "type": "quantitative", "sort": "ascending"}
              }
            },
            {
              "data": {"name": "taxa"},
              "transform": [
                {"filter": "datum.cmpd != 'Inoc'"},
                {"fold": ["Bacteroidetes_Bacteroidia","Firmicutes_Bacilli","Firmicutes_Clostridia","Firmicutes_Erysipelotrichi","Proteobacteria_Betaproteobacteria","Tenericutes_Mollicutes","Verrucomicrobia_Verrucomicrobiae","Other"], "as": ["taxon","abund"]},
                {"calculate": "indexof(['Other','Verrucomicrobia_Verrucomicrobiae','Tenericutes_Mollicutes','Proteobacteria_Betaproteobacteria','Firmicutes_Erysipelotrichi','Firmicutes_Clostridia','Firmicutes_Bacilli','Bacteroidetes_Bacteroidia'], datum.taxon)", "as": "stackrank"}
              ],
              "facet": {"column": {"field": "cmpd", "type": "nominal", "title": null, "sort": ["Acetic_acid","BHA","EDTA","Sodium_sulfite","Ampicillin"]}},
              "spacing": 5,
              "spec": {
                "width": 104.6, "height": 105,
                "mark": {"type": "bar"},
                "encoding": {
                  "x": {"field": "conc", "type": "ordinal", "scale": {"type": "band", "paddingInner": 0.1, "paddingOuter": 0.15, "domain": ["0","50","100","200","500","1000"]}, "axis": {"title": null, "labelAngle": -45}},
                  "y": {"field": "abund", "type": "quantitative", "stack": "zero", "scale": {"domain": [-0.05, 1.05], "nice": false, "zero": false}, "axis": null},
                  "color": {"field": "taxon", "type": "nominal",
                    "scale": {"domain": ["Bacteroidetes_Bacteroidia","Firmicutes_Clostridia","Proteobacteria_Betaproteobacteria","Verrucomicrobia_Verrucomicrobiae","Firmicutes_Bacilli","Firmicutes_Erysipelotrichi","Tenericutes_Mollicutes","Other"], "range": ["#1f6696","#f46d14","#e8ac1c","#6b3a73","#cc503e","#f8877e","#6ea84b","#a6a6a6"]},
                    "legend": {"title": null, "orient": "bottom", "direction": "horizontal", "columns": 4, "symbolType": "square", "symbolSize": 100, "symbolStrokeWidth": 0, "labelFontSize": 7.3, "labelColor": "black", "labelOffset": 5, "columnPadding": 7, "rowPadding": 2.5, "offset": 12, "labelExpr": "datum.label == 'Other' ? 'Other (<0.5%)' : datum.label"}},
                  "order": {"field": "stackrank", "type": "quantitative", "sort": "ascending"}
                }
              }
            }
          ]
        }]
      }
    ]
  }
]
}
